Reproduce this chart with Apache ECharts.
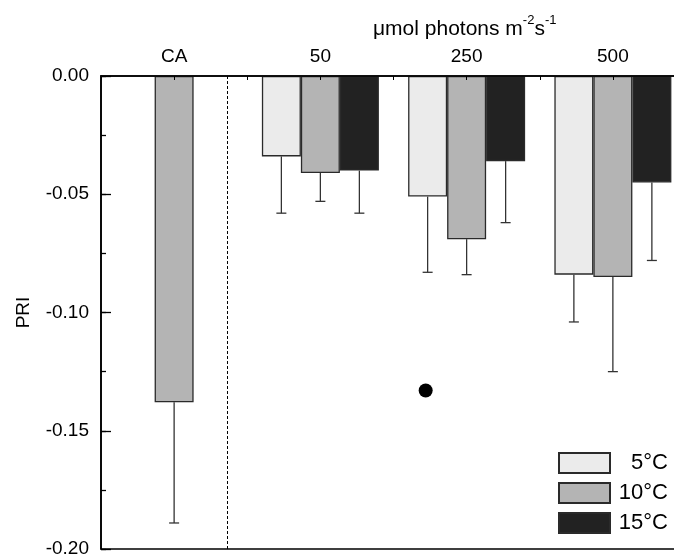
<!DOCTYPE html>
<html>
<head>
<meta charset="utf-8">
<script src="https://cdn.jsdelivr.net/npm/echarts@6/dist/echarts.min.js"></script>
<style>
  html, body { margin: 0; padding: 0; background: #fff; }
  #chart { width: 674px; height: 558px; }
</style>
</head>
<body>
<div id="chart"></div>
<script>
// Light levels (µmol photons m-2 s-1) plus the CA reference group
const categories = ['CA', '50', '250', '500'];
const temperatures = ['5°C', '10°C', '15°C'];

// Mean PRI per temperature and group (null = not measured)
const pri5 = [null, -0.034, -0.051, -0.084];
const pri10 = [-0.138, -0.041, -0.069, -0.085];
const pri15 = [null, -0.040, -0.036, -0.045];

// Standard deviations (drawn away from zero)
const err5 = [null, 0.024, 0.032, 0.020];
const err10 = [0.051, 0.012, 0.015, 0.040];
const err15 = [null, 0.018, 0.026, 0.033];

// Single reference point and separator, on the 0..8 position scale
const refPoint = [[4.44, -0.133]];
const separatorPos = 1.73;

// Y axis ticks
const yMin = -0.20, yMax = 0.00, yStep = 0.05, yMinorStep = 0.025;

const fills = ['#ebebeb', '#b4b4b4', '#222222'];
const means = [pri5, pri10, pri15];
const errs = [err5, err10, err15];
const BAR_W = 39;
const FONT = 'Liberation Sans, Arial, sans-serif';

const chart = echarts.init(document.getElementById('chart'), null, { renderer: 'canvas' });

const barSeries = temperatures.map((name, k) => ({
  name: name,
  type: 'bar',
  xAxisIndex: 0,
  yAxisIndex: 0,
  barWidth: BAR_W,
  barGap: '0%',
  data: means[k],
  itemStyle: { color: fills[k], borderColor: '#2a2a2a', borderWidth: 1.3 },
  emphasis: { disabled: true },
  z: 2
}));

const errSeries = temperatures.map((name, k) => ({
  type: 'custom',
  xAxisIndex: 0,
  yAxisIndex: 0,
  silent: true,
  z: 1,
  data: categories
    .map((c, i) => (means[k][i] === null ? null : [i, means[k][i], errs[k][i]]))
    .filter(d => d !== null),
  renderItem: function (params, api) {
    const i = api.value(0), m = api.value(1), e = api.value(2);
    const top = api.coord([i, m]);
    const bot = api.coord([i, m - e]);
    const x = top[0] + (k - 1) * BAR_W;
    const cap = 5;
    const st = { stroke: '#333', lineWidth: 1.3 };
    return {
      type: 'group',
      children: [
        { type: 'line', shape: { x1: x, y1: top[1], x2: x, y2: bot[1] }, style: st },
        { type: 'line', shape: { x1: x - cap, y1: bot[1], x2: x + cap, y2: bot[1] }, style: st }
      ]
    };
  }
}));

const option = {
  animation: false,
  backgroundColor: '#fff',
  title: {
    text: '{a|\u03bcmol photons m}{s|-2}{a|s}{s|-1}',
    left: 368,
    top: 9,
    textStyle: {
      fontWeight: 'normal',
      rich: {
        a: { fontFamily: FONT, fontSize: 21, fontWeight: 'normal', color: '#000', lineHeight: 26, verticalAlign: 'bottom' },
        s: { fontFamily: FONT, fontSize: 13, fontWeight: 'normal', color: '#000', lineHeight: 26, verticalAlign: 'top' }
      }
    }
  },
  legend: {
    data: temperatures,
    orient: 'vertical',
    left: 553,
    top: 447,
    itemWidth: 51,
    itemHeight: 20,
    itemGap: 8,
    icon: 'rect',
    selectedMode: false,
    formatter: '{t|{name}}',
    textStyle: {
      rich: { t: { fontFamily: FONT, fontSize: 22, color: '#000', width: 53, align: 'right' } }
    }
  },
  grid: {
    left: 101, top: 76, width: 585, height: 473,
    outerBoundsMode: 'none',
    containLabel: false,
    show: true, borderColor: '#000', borderWidth: 1.6, backgroundColor: 'transparent'
  },
  xAxis: [
    {
      type: 'category',
      data: categories,
      position: 'top',
      z: 10,
      axisLine: { show: true, lineStyle: { color: '#000', width: 1.6 } },
      axisTick: { show: false },
      axisLabel: { color: '#000', fontFamily: FONT, fontSize: 19, margin: 10 },
      splitLine: { show: false }
    },
    {
      type: 'value',
      min: 0, max: 8, interval: 1,
      position: 'top',
      z: 10,
      axisLine: { show: false },
      axisTick: { show: true, inside: true, length: 4, lineStyle: { color: '#000', width: 1 } },
      axisLabel: { show: false },
      splitLine: { show: false }
    }
  ],
  yAxis: [
    {
      type: 'value',
      min: yMin, max: yMax, interval: yStep,
      name: 'PRI',
      nameLocation: 'middle',
      nameGap: 68,
      nameTextStyle: { color: '#000', fontFamily: FONT, fontSize: 19 },
      z: 10,
      axisLine: { show: true, lineStyle: { color: '#000', width: 1.6 } },
      axisTick: { show: true, inside: true, length: 10, lineStyle: { color: '#000', width: 1.3 } },
      axisLabel: {
        color: '#000', fontFamily: FONT, fontSize: 19, margin: 12,
        formatter: v => v.toFixed(2)
      },
      splitLine: { show: false }
    },
    {
      // intermediate tick marks only
      type: 'value',
      min: yMin, max: yMax, interval: yMinorStep,
      position: 'left',
      offset: 0,
      z: 10,
      axisLine: { show: false },
      axisTick: { show: true, inside: true, length: 5, lineStyle: { color: '#000', width: 1.3 } },
      axisLabel: { show: false },
      splitLine: { show: false }
    }
  ],
  series: [
    ...barSeries,
    ...errSeries,
    {
      type: 'scatter',
      xAxisIndex: 1,
      yAxisIndex: 0,
      data: refPoint,
      symbol: 'circle',
      symbolSize: 14,
      itemStyle: { color: '#000', opacity: 1 },
      silent: true,
      z: 3,
      markLine: {
        silent: true,
        symbol: ['none', 'none'],
        label: { show: false },
        lineStyle: { color: '#000', width: 1, type: [3, 2] },
        data: [{ xAxis: separatorPos }]
      }
    }
  ]
};

chart.setOption(option);
</script>
</body>
</html>
